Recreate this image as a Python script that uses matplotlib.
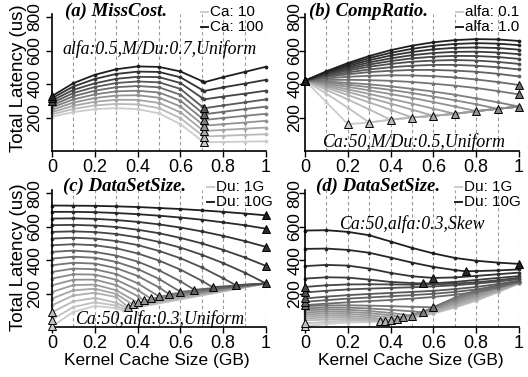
import numpy as np
import matplotlib
matplotlib.use('Agg')
import matplotlib.pyplot as plt
from matplotlib.lines import Line2D

plt.rcParams['font.family'] = ['Liberation Sans', 'DejaVu Sans']

# ---------------- data ----------------
# (a) MissCost: Ca = 10 .. 100
a_x = [0, 0.1, 0.2, 0.3, 0.4, 0.5, 0.6, 0.7, 0.71, 0.8, 0.9, 1.0]
a_y = [
    [205, 232, 250, 256, 250, 225, 160, 62, 52, 54, 56, 58],
    [219, 251, 272, 281, 278, 256, 196, 96, 86, 91, 96, 100],
    [232, 270, 294, 306, 305, 287, 231, 129, 119, 126, 133, 140],
    [246, 289, 316, 331, 333, 318, 266, 162, 151, 160, 170, 180],
    [260, 308, 338, 356, 360, 349, 301, 196, 185, 197, 210, 222],
    [273, 327, 360, 381, 388, 380, 336, 230, 219, 234, 250, 265],
    [287, 346, 382, 406, 415, 410, 371, 266, 255, 272, 290, 308],
    [301, 365, 404, 431, 443, 441, 406, 318, 308, 325, 342, 360],
    [315, 385, 430, 460, 474, 472, 440, 366, 358, 380, 402, 425],
    [328, 405, 455, 488, 505, 502, 475, 418, 410, 441, 472, 503],
]

# (b) CompRatio: alfa = 0.1 .. 1.0
b_x = [0, 0.1, 0.2, 0.3, 0.4, 0.5, 0.6, 0.7, 0.8, 0.9, 1.0]
b_y = [
    [420, 292, 160, 170, 187, 200, 210, 222, 238, 252, 265],
    [420, 342, 259, 170, 187, 200, 210, 222, 238, 252, 265],
    [420, 365, 308, 248, 187, 200, 210, 222, 238, 252, 265],
    [420, 378, 334, 290, 246, 200, 210, 222, 238, 252, 265],
    [420, 387, 353, 318, 283, 247, 210, 222, 238, 252, 265],
    [420, 395, 368, 341, 312, 283, 253, 222, 238, 252, 265],
    [420, 402, 383, 362, 340, 317, 292, 266, 238, 252, 265],
    [420, 409, 396, 381, 365, 346, 325, 303, 279, 252, 265],
    [420, 415, 407, 398, 386, 371, 355, 336, 314, 291, 265],
    [420, 424, 425, 423, 419, 412, 402, 390, 376, 358, 338],
    [420, 433, 443, 449, 452, 451, 447, 439, 427, 412, 394],
    [420, 441, 458, 471, 479, 484, 484, 480, 473, 461, 445],
    [420, 447, 469, 487, 500, 509, 514, 514, 509, 500, 487],
    [420, 452, 480, 503, 520, 533, 540, 543, 540, 532, 520],
    [420, 457, 489, 516, 537, 553, 563, 568, 567, 561, 550],
    [420, 462, 498, 529, 553, 572, 585, 592, 593, 588, 578],
    [420, 467, 507, 542, 570, 591, 607, 616, 618, 615, 605],
    [420, 472, 516, 555, 586, 610, 628, 639, 644, 641, 632],
    [420, 476, 525, 567, 602, 629, 649, 662, 668, 666, 657],
]

# (c) DataSetSize, Uniform: Du = 1G .. 10G
grid = [0, 0.1, 0.2, 0.3, 0.4, 0.5, 0.6, 0.7, 0.8, 0.9, 1.0]
c_x = [
    [0, 0.1, 0.2, 0.3, 0.33, 1.0],
    [0, 0.1, 0.2, 0.3, 0.34, 1.0],
    [0, 0.1, 0.2, 0.3, 0.35, 1.0],
    [0, 0.1, 0.2, 0.3, 0.354, 1.0],
    [0, 0.1, 0.2, 0.3, 0.377, 1.0],
    [0, 0.1, 0.2, 0.3, 0.4, 1.0],
    [0, 0.1, 0.2, 0.3, 0.4, 0.43, 1.0],
    [0, 0.1, 0.2, 0.3, 0.4, 0.461, 1.0],
    [0, 0.1, 0.2, 0.3, 0.4, 0.5, 1.0],
    [0, 0.1, 0.2, 0.3, 0.4, 0.5, 0.547, 1.0],
    [0, 0.1, 0.2, 0.3, 0.4, 0.5, 0.6, 1.0],
    [0, 0.1, 0.2, 0.3, 0.4, 0.5, 0.6, 0.665, 1.0],
    [0, 0.1, 0.2, 0.3, 0.4, 0.5, 0.6, 0.7, 0.75, 1.0],
    [0, 0.1, 0.2, 0.3, 0.4, 0.5, 0.6, 0.7, 0.8, 0.858, 1.0],
    grid, grid, grid, grid, grid,
]
c_y = [
    [4, 90, 126, 113, 100, 261],
    [44, 120, 148, 128, 107, 261],
    [88, 154, 174, 146, 114, 261],
    [130, 189, 205, 179, 121, 261],
    [170, 220, 229, 198, 135, 261],
    [210, 251, 254, 220, 147, 261],
    [250, 283, 284, 251, 185, 159, 261],
    [290, 316, 314, 283, 222, 171, 261],
    [330, 350, 346, 317, 262, 183, 261],
    [370, 385, 380, 353, 306, 237, 197, 261],
    [410, 421, 415, 390, 348, 288, 211, 261],
    [450, 458, 450, 428, 392, 340, 274, 223, 261],
    [490, 496, 490, 472, 441, 398, 344, 277, 239, 261],
    [530, 535, 530, 515, 491, 456, 412, 357, 292, 251, 261],
    [570, 573, 569, 557, 537, 510, 476, 433, 383, 326, 261],
    [610, 612, 608, 599, 583, 562, 534, 501, 462, 417, 366],
    [650, 651, 648, 641, 630, 615, 596, 573, 546, 515, 480],
    [690, 690, 688, 683, 676, 667, 656, 643, 627, 610, 589],
    [728, 727, 726, 723, 719, 713, 707, 699, 690, 680, 669],
]

# (d) DataSetSize, Skew: Du = 1G .. 10G
d_x = [
    grid, grid,
    [0, 0.1, 0.2, 0.3, 0.35, 0.4, 0.5, 0.6, 0.7, 0.8, 0.9, 1.0],
    [0, 0.1, 0.2, 0.3, 0.375, 0.4, 0.5, 0.6, 0.7, 0.8, 0.9, 1.0],
    grid,
    [0, 0.1, 0.2, 0.3, 0.4, 0.43, 0.5, 0.6, 0.7, 0.8, 0.9, 1.0],
    [0, 0.1, 0.2, 0.3, 0.4, 0.46, 0.5, 0.6, 0.7, 0.8, 0.9, 1.0],
    grid,
    [0, 0.1, 0.2, 0.3, 0.4, 0.5, 0.55, 0.6, 0.7, 0.8, 0.9, 1.0],
    grid, grid, grid, grid, grid, grid,
    [0, 0.1, 0.2, 0.3, 0.4, 0.5, 0.55, 0.6, 0.7, 0.8, 0.9, 1.0],
    grid,
    [0, 0.1, 0.2, 0.3, 0.4, 0.5, 0.6, 0.7, 0.75, 0.8, 0.9, 1.0],
    grid,
]
d_y = [
    [6, 18, 26, 30, 34, 50, 80, 116, 158, 208, 261],
    [22, 30, 36, 38, 40, 56, 84, 118, 160, 210, 262],
    [40, 44, 44, 40, 36, 44, 62, 86, 120, 162, 210, 262],
    [52, 56, 55, 48, 38, 42, 66, 92, 128, 170, 215, 263],
    [64, 68, 66, 58, 42, 70, 98, 136, 178, 220, 264],
    [76, 80, 78, 70, 56, 48, 72, 104, 144, 186, 226, 265],
    [88, 92, 90, 83, 70, 58, 74, 110, 152, 194, 232, 266],
    [100, 104, 103, 96, 84, 68, 114, 160, 202, 238, 267],
    [112, 116, 116, 111, 103, 94, 88, 120, 168, 210, 244, 268],
    [125, 129, 130, 128, 125, 121, 118, 176, 220, 250, 269],
    [131, 140, 148, 155, 162, 170, 180, 193, 210, 236, 270],
    [151, 161, 170, 177, 184, 191, 199, 210, 225, 246, 273],
    [171, 182, 191, 198, 204, 210, 217, 227, 240, 257, 278],
    [207, 217, 225, 230, 234, 238, 243, 250, 260, 272, 287],
    [240, 250, 255, 256, 255, 254, 255, 260, 268, 280, 295],
    [290, 298, 296, 284, 270, 263, 261, 262, 270, 282, 294, 305],
    [365, 372, 368, 350, 324, 304, 294, 297, 306, 316, 326],
    [468, 470, 462, 445, 416, 386, 360, 341, 334, 335, 339, 345],
    [578, 580, 570, 550, 512, 474, 441, 414, 397, 386, 378],
]

x_ticks = [0, 0.2, 0.4, 0.6, 0.8, 1.0]
x_ticklabels = ['0', '0.2', '0.4', '0.6', '0.8', '1']
y_ticks = [200, 400, 600, 800]

W, H = 528, 377
fig = plt.figure(figsize=(W / 100, H / 100), dpi=100)


def add_ax(left, right, zero_px, px_per_800):
    top = zero_px - px_per_800 * 820 / 800
    return fig.add_axes([left / W, 1 - zero_px / H, (right - left) / W, (zero_px - top) / H])


def draw_family(ax, xs, ys):
    n = len(ys)
    greys = np.linspace(0.80, 0.12, n)
    for k in range(n):
        col = str(greys[k])
        ax.plot(xs[k], ys[k], color=col, lw=1.3, marker='o', ms=1.7,
                mec=col, mfc=col, zorder=2, clip_on=False)
    for k in range(n):
        col = str(greys[k])
        i = int(np.argmin(ys[k]))
        ax.plot(xs[k][i], ys[k][i], marker='^', ms=5.5, mfc=col, mec='black',
                mew=0.7, zorder=5, clip_on=False)


def style(ax, ypad):
    ax.set_xlim(0, 1)
    ax.set_ylim(0, 820)
    for x in np.arange(1, 11) / 10:
        ax.axvline(x, color='#9a9a9a', lw=0.8, dashes=(3, 2.5), zorder=1)
    for s in ['top', 'right']:
        ax.spines[s].set_visible(False)
    for s in ['left', 'bottom']:
        ax.spines[s].set_linewidth(1.2)
    ax.set_xticks(x_ticks)
    ax.set_xticklabels(x_ticklabels)
    ax.set_yticks(y_ticks)
    ax.set_yticklabels([str(v) for v in y_ticks], rotation=90, va='center')
    ax.tick_params(axis='x', direction='out', length=4, width=1, labelsize=13, pad=1.5)
    ax.tick_params(axis='y', direction='out', length=4, width=1, labelsize=12.5, pad=ypad)


def fx(px):
    return px / W


def fy(py):
    return 1 - py / H


def legend(x_handle, rows, labels, colors):
    for y, lab, col in zip(rows, labels, colors):
        fig.add_artist(Line2D([fx(x_handle), fx(x_handle + 7)], [fy(y), fy(y)],
                              color=col, lw=1.4, transform=fig.transFigure))
        fig.text(fx(x_handle + 9), fy(y), lab, fontsize=11, va='center', ha='left')


serif = ['Liberation Serif', 'DejaVu Serif']

ax_a = add_ax(52, 266, 151, 134)
ax_b = add_ax(305, 519, 151, 134)
ax_c = add_ax(52, 266, 327, 133.5)
ax_d = add_ax(305, 519, 327, 133.5)

draw_family(ax_a, [a_x] * len(a_y), a_y)
draw_family(ax_b, [b_x] * len(b_y), b_y)
draw_family(ax_c, c_x, c_y)
draw_family(ax_d, d_x, d_y)

style(ax_a, 3)
style(ax_b, -2)
style(ax_c, 3)
style(ax_d, -2)

# titles
fig.text(fx(65), fy(11.5), '(a) MissCost.', family=serif, style='italic', weight='bold', size=13.5, va='center')
fig.text(fx(309), fy(11.5), '(b) CompRatio.', family=serif, style='italic', weight='bold', size=13.5, va='center')
fig.text(fx(63), fy(186), '(c) DataSetSize.', family=serif, style='italic', weight='bold', size=13.5, va='center')
fig.text(fx(316), fy(186), '(d) DataSetSize.', family=serif, style='italic', weight='bold', size=13.5, va='center')

# annotations
fig.text(fx(62), fy(49), 'alfa:0.5,M/Du:0.7,Uniform', family=serif, style='italic', size=12.8, va='center')
fig.text(fx(322), fy(142), 'Ca:50,M/Du:0.5,Uniform', family=serif, style='italic', size=12.8, va='center')
fig.text(fx(75), fy(319), 'Ca:50,alfa:0.3,Uniform', family=serif, style='italic', size=12.8, va='center')
fig.text(fx(339), fy(224), 'Ca:50,alfa:0.3,Skew', family=serif, style='italic', size=12.8, va='center')

# legends
legend(201, [12, 27], ['Ca: 10', 'Ca: 100'], ['0.8', '0.12'])
legend(456, [12, 27], ['alfa: 0.1', 'alfa: 1.0'], ['0.8', '0.12'])
legend(207, [187, 202], ['Du: 1G', 'Du: 10G'], ['0.8', '0.12'])
legend(455, [187, 202], ['Du: 1G', 'Du: 10G'], ['0.8', '0.12'])

# axis labels
fig.text(fx(19), fy(78), 'Total Latency (us)', rotation=90, size=13.5, ha='center', va='center')
fig.text(fx(19), fy(257), 'Total Latency (us)', rotation=90, size=13.5, ha='center', va='center')
fig.text(fx(157), fy(361), 'Kernel Cache Size (GB)', size=12.5, ha='center', va='center')
fig.text(fx(411), fy(361), 'Kernel Cache Size (GB)', size=12.5, ha='center', va='center')

fig.savefig('out.png', dpi=100)
